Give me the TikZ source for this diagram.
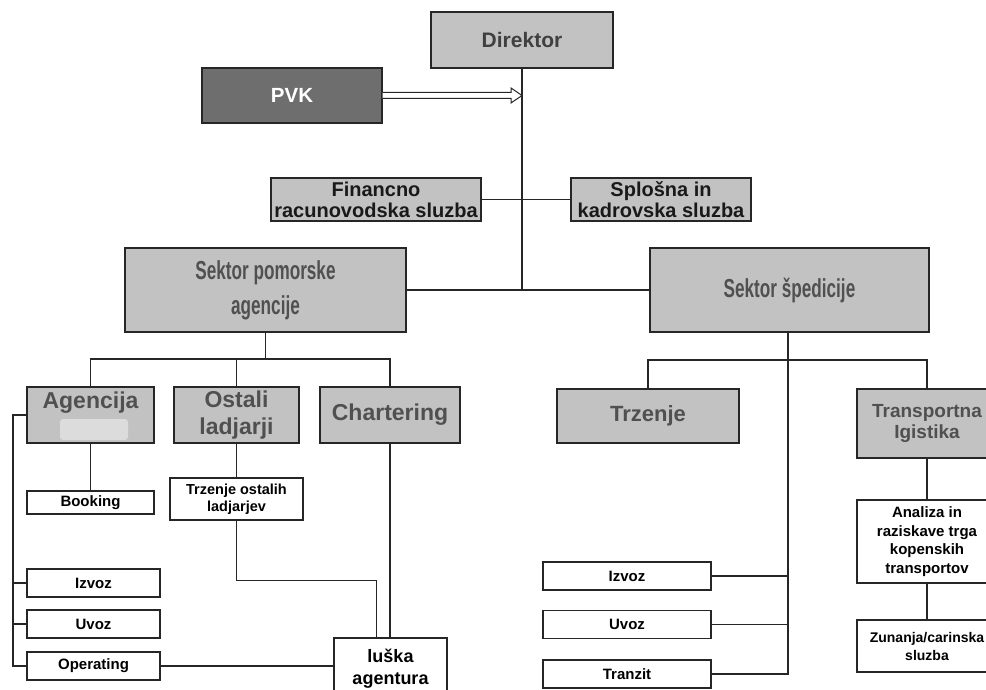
\documentclass[tikz,border=0pt]{standalone}
\usepackage{fontspec}
\setmainfont{Liberation Sans}
\newfontfamily\sektorfont[FakeStretch=0.66]{Liberation Sans}
\usetikzlibrary{calc}
\definecolor{boxgray}{HTML}{C2C2C2}
\definecolor{pvkgray}{HTML}{6E6E6E}
\definecolor{ink}{HTML}{262626}
\definecolor{labelgray}{HTML}{505050}
\definecolor{patch}{HTML}{DCDCDC}

\begin{document}
\begin{tikzpicture}[x=1pt,y=-1pt,
  box/.style={draw=ink, line width=1.4pt, inner sep=0pt, align=center},
  graybox/.style={box, fill=boxgray, text=labelgray},
  whitebox/.style={box, fill=white, text=black, font=\bfseries\fontsize{15}{18.5}\selectfont},
  midfont/.style={font=\bfseries\fontsize{23}{27}\selectfont},
  sektor/.style={graybox, font=\sektorfont\bfseries\fontsize{26}{35}\selectfont, minimum width=280pt, minimum height=84pt},
  link/.style={draw=ink, line width=1.3pt},
]
\useasboundingbox (0,0) rectangle (986,690);
\clip (0,0) rectangle (986,690);

% top level
\node[graybox, minimum width=182pt, minimum height=56pt, text=labelgray!80!black,
      font=\bfseries\fontsize{21}{23}\selectfont] (dir) at (522,40) {Direktor};
\node[box, fill=pvkgray, text=white, minimum width=180pt, minimum height=55pt,
      font=\bfseries\fontsize{20.5}{22}\selectfont] (pvk) at (292,95.5) {PVK};

% staff services
\node[graybox, text=black!90, minimum width=210pt, minimum height=43pt,
      font=\bfseries\fontsize{20}{21}\selectfont] (fin) at (376,199.5) {Financno\\racunovodska sluzba};
\node[graybox, text=black!90, minimum width=180pt, minimum height=43pt,
      font=\bfseries\fontsize{20}{21}\selectfont] (spl) at (661,199.5) {Splošna in\\kadrovska sluzba};

% sectors
\node[sektor, minimum width=281pt] (spa) at (265.5,290) {Sektor pomorske\\agencije};
\node[sektor, minimum width=279pt] (sps) at (789.5,290) {Sektor špedicije};

% maritime agency departments
\node[graybox, minimum width=127pt, minimum height=56pt,
      label={[midfont, text=labelgray, inner sep=0pt, anchor=north, yshift=-5pt]north:Agencija}] (ag) at (90.5,415) {};
\fill[patch, rounded corners=3pt] (60,419) rectangle (128,440);
\node[graybox, midfont, minimum width=125pt, minimum height=56pt] (ost) at (236.5,415) {Ostali\\ladjarji};
\node[graybox, midfont, minimum width=140pt, minimum height=56pt] (ch) at (390,415) {Chartering};

\node[whitebox, minimum width=127pt, minimum height=23pt] (book) at (90.5,502.5) {Booking};
\node[whitebox, minimum width=133pt, minimum height=42pt,
      font=\bfseries\fontsize{14.5}{17}\selectfont] (tro) at (236.5,499) {Trzenje ostalih\\ladjarjev};
\node[whitebox, minimum width=133pt, minimum height=28pt] (izl) at (93.5,583) {Izvoz};
\node[whitebox, minimum width=133pt, minimum height=28pt] (uvl) at (93.5,624) {Uvoz};
\node[whitebox, minimum width=133pt, minimum height=28pt] (op) at (93.5,666) {Operating};
\node[whitebox, minimum width=113pt, minimum height=62pt,
      font=\bfseries\fontsize{18}{22}\selectfont] (lu) at (390.5,669) {luška\\agentura};

% forwarding departments
\node[graybox, minimum width=182pt, minimum height=54pt,
      font=\bfseries\fontsize{22}{24}\selectfont] (trr) at (648,416) {Trzenje};
\node[graybox, minimum width=140pt, minimum height=69pt,
      font=\bfseries\fontsize{19}{21}\selectfont] (tl) at (927,423.5) {Transportna\\Igistika};
\node[whitebox, minimum width=140pt, minimum height=83pt] (an) at (927,541.5) {Analiza in\\raziskave trga\\kopenskih\\transportov};
\node[whitebox, minimum width=140pt, minimum height=52pt,
      font=\bfseries\fontsize{14}{18}\selectfont] (zu) at (927,646) {Zunanja/carinska\\sluzba};
\node[whitebox, minimum width=168pt, minimum height=28pt] (izr) at (627,576) {Izvoz};
\node[whitebox, minimum width=168pt, minimum height=28pt] (uvr) at (627,624.5) {Uvoz};
\node[whitebox, minimum width=168pt, minimum height=28pt] (tz) at (627,674) {Tranzit};

% director spine
\coordinate (spine) at (522,0);
\draw[link] (dir.south) -- (spine |- spa.east);
\draw[link] (spa.east) -- (sps.west);
\draw[link] (fin.east) -- (spl.west);

% PVK double arrow
\coordinate (tip) at (spine |- pvk.east);
\draw[draw=ink, line width=1pt, fill=white, line join=miter]
  ($(pvk.east)+(0,3)$) -- ($(tip)+(-11,3)$) -- ($(tip)+(-11,7.5)$) -- (tip)
  -- ($(tip)+(-11,-7.5)$) -- ($(tip)+(-11,-3)$) -- ($(pvk.east)+(0,-3)$);

% maritime agency tree
\coordinate (lbus) at (0,359);
\draw[link] (spa.south) -- (spa.south |- lbus);
\draw[link] (ag.north) -- (ag.north |- lbus) -- (ch.north |- lbus) -- (ch.north);
\draw[link] (ost.north) -- (ost.north |- lbus);
\draw[link] (ag.south) -- (book.north);
\coordinate (rail) at (13,0);
\draw[link] (ag.west) -- (ag.west -| rail) -- (rail |- op.west) -- (op.west);
\draw[link] (rail |- izl.west) -- (izl.west);
\draw[link] (rail |- uvl.west) -- (uvl.west);
\draw[link] (ost.south) -- (tro.north);
\coordinate (lun) at ($(lu.north)+(-14,0)$);
\draw[link] (tro.south) -- ++(0,60) -| (lun);
\draw[link] (ch.south) -- (ch.south |- lu.north);
\draw[link] (op.east) -- (op.east -| lu.west);

% forwarding tree
\coordinate (rbus) at (0,360);
\coordinate (rspine) at (788,0);
\draw[link] (trr.north) -- (trr.north |- rbus) -- (tl.north |- rbus) -- (tl.north);
\draw[link] (rspine |- sps.south) -- (rspine |- tz.east) -- (tz.east);
\draw[link] (izr.east) -- (izr.east -| rspine);
\draw[link] (uvr.east) -- (uvr.east -| rspine);
\draw[link] (tl.south) -- (an.north);
\draw[link] (an.south) -- (zu.north);
\end{tikzpicture}
\end{document}
